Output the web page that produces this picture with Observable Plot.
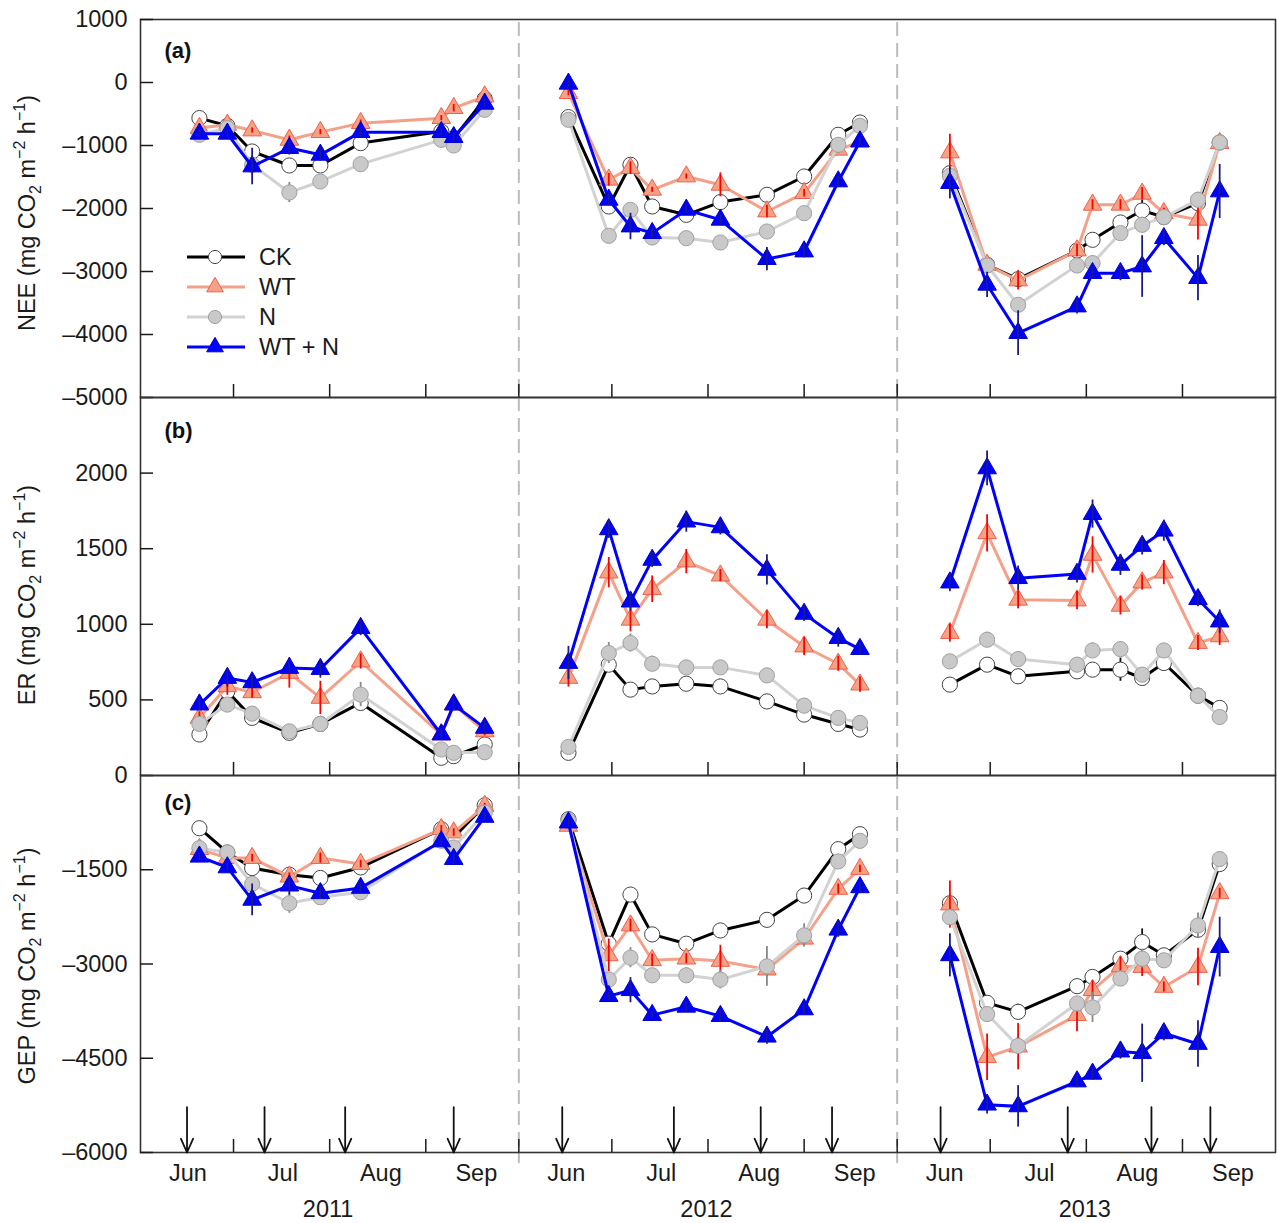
<!DOCTYPE html>
<html><head><meta charset="utf-8">
<script src="https://cdn.jsdelivr.net/npm/d3@7"></script>
<script src="https://cdn.jsdelivr.net/npm/@observablehq/plot@0.6"></script>
<style>
html,body{margin:0;padding:0;background:#fff;overflow:hidden}
#chart svg{display:block;overflow:visible}
</style></head><body><div id="chart"></div>
<script>
// ---------------- data ----------------
const seriesNames = ["CK", "WT", "N", "WT + N"];
const yearNames = ["2011", "2012", "2013"];
const monthNames = ["Jun", "Jul", "Aug", "Sep"];
const monthLabelOffsets = [15.3, 45.9, 77.5, 108.3];   // days after 1 June
const yearLabelOffset = 60.5;
const sampleDates = [
  "2011-06-20","2011-06-29","2011-07-07","2011-07-19","2011-07-29","2011-08-11","2011-09-06","2011-09-10","2011-09-20",
  "2012-06-17","2012-06-30","2012-07-07","2012-07-14","2012-07-25","2012-08-05","2012-08-20","2012-09-01","2012-09-12","2012-09-19",
  "2013-06-18","2013-06-30","2013-07-10","2013-07-29","2013-08-03","2013-08-12","2013-08-19","2013-08-26","2013-09-06","2013-09-13"
];
const arrowDates = [
  "2011-06-16","2011-07-11","2011-08-06","2011-09-10",
  "2012-06-15","2012-07-21","2012-08-18","2012-09-10",
  "2013-06-15","2013-07-26","2013-08-22","2013-09-10"
];
const monthTickDates = [
  "2011-07-01","2011-08-01","2011-09-01","2011-10-01",
  "2012-07-01","2012-08-01","2012-09-01","2012-10-01",
  "2013-07-01","2013-08-01","2013-09-01"
];
const dividerDates = ["2011-10-01", "2012-10-01"];

// NEE
const neeCK  = [-565,-687,-1095,-1317,-1317,-962,-777,-883,-259,
                -550,-1968,-1306,-1968,-2100,-1898,-1783,-1492,-830,-635,
                -1439,-2894,-3121,-2667,-2497,-2222,-2032,-2137,-1915,-952];
const neeWT  = [-724,-672,-762,-910,-788,-645,-566,-407,-222,
                -169,-1544,-1359,-1703,-1492,-1624,-2048,-1756,-1068,-937,
                -1111,-2894,-3143,-2667,-1941,-1941,-1767,-2074,-2180,-963];
const neeN   = [-830,-724,-1306,-1746,-1571,-1296,-910,-1000,-433,
                -592,-2433,-2021,-2460,-2471,-2540,-2365,-2074,-989,-688,
                -1481,-2905,-3529,-2905,-2867,-2391,-2259,-2137,-1862,-952];
const neeWTN = [-814,-814,-1333,-1041,-1148,-788,-788,-867,-338,
                -20,-1862,-2286,-2391,-2021,-2179,-2803,-2683,-1571,-937,
                -1597,-3211,-3978,-3556,-3026,-3026,-2921,-2471,-3105,-1730];
const neeCKse  = [40,40,60,60,60,50,40,40,40, 40,50,40,40,40,60,60,40,40,40, 60,80,80,60,60,60,160,60,80,40];
const neeWTse  = [40,40,40,60,40,50,40,60,40, 40,100,100,40,40,190,100,60,60,40, 290,100,150,100,80,80,100,80,320,60];
const neeNse   = [40,40,60,160,60,40,60,80,40, 40,60,80,60,80,60,100,100,60,40, 60,60,80,80,120,80,120,60,120,40];
const neeWTNse = [60,60,290,110,100,80,60,80,60, 60,80,210,80,60,80,185,100,80,60, 250,200,355,120,100,120,490,120,360,430];

// ER
const erCK  = [271,557,381,282,341,480,117,128,205,
               150,733,568,589,607,589,490,403,341,304,
               601,733,656,689,700,700,645,744,528,447];
const erWT  = [381,590,550,678,513,754,271,469,292,
               645,1342,1030,1232,1415,1322,1030,853,739,601,
               942,1602,1162,1157,1459,1122,1276,1342,876,920];
const erN   = [341,469,409,292,341,535,172,150,154,
               189,810,876,739,715,715,662,462,381,348,
               755,898,770,733,827,836,667,827,528,387];
const erWTN = [469,645,616,711,704,975,271,469,315,
               744,1628,1150,1426,1679,1641,1360,1069,909,836,
               1276,2031,1305,1333,1729,1393,1518,1619,1166,1018];
const erCKse  = [30,30,30,20,30,30,20,20,20, 20,40,30,30,30,30,30,30,20,20, 30,40,30,40,40,77,40,40,30,30];
const erWTse  = [40,60,40,100,110,50,30,40,30, 60,100,80,88,80,40,60,60,50,50, 60,123,60,60,120,60,50,80,50,60];
const erNse   = [30,30,30,30,30,80,30,30,30, 30,70,60,50,40,40,40,30,30,30, 40,50,30,40,50,50,40,40,30,30];
const erWTNse = [40,60,40,40,60,50,40,40,40, 110,60,60,50,70,50,100,50,60,40, 60,115,80,60,93,70,60,70,50,77];

// GEP
const gepCK  = [-839,-1225,-1473,-1579,-1631,-1463,-855,-987,-474,
                -696,-2677,-1895,-2529,-2677,-2466,-2297,-1911,-1172,-934,
                -2033,-3618,-3761,-3353,-3206,-2915,-2651,-2862,-2455,-1409];
const gepWT  = [-1172,-1314,-1314,-1610,-1314,-1409,-855,-908,-485,
                -802,-2862,-2387,-2941,-2915,-2952,-3089,-2598,-1806,-1488,
                -2054,-4483,-4315,-3813,-3417,-3037,-3048,-3365,-3048,-1875];
const gepN   = [-1156,-1225,-1726,-2033,-1938,-1859,-1040,-1146,-591,
                -723,-3248,-2899,-3180,-3180,-3248,-3037,-2545,-1368,-1040,
                -2255,-3797,-4304,-3628,-3691,-3232,-2915,-2941,-2387,-1330];
const gepWTN = [-1293,-1463,-1979,-1753,-1874,-1789,-1050,-1330,-659,
                -749,-3512,-3417,-3813,-3681,-3829,-4157,-3723,-2455,-1780,
                -2862,-5239,-5266,-4870,-4748,-4394,-4420,-4103,-4273,-2731];
const gepCKse  = [40,40,40,50,40,40,40,40,40, 40,60,50,60,50,60,60,50,50,40, 60,100,120,80,80,80,210,80,120,60];
const gepWTse  = [60,60,60,60,80,60,60,60,40, 60,260,100,100,80,250,100,120,80,60, 375,370,370,265,150,150,150,80,300,80];
const gepNse   = [60,60,80,160,80,80,80,60,40, 60,100,160,100,120,150,317,185,80,60, 80,120,120,80,240,120,150,80,200,60];
const gepWTNse = [60,60,253,150,100,80,60,80,60, 60,60,200,60,80,100,120,80,120,80, 343,150,330,100,100,120,464,120,370,475];

const arrowTopGEP = -5280;

// ---------------- helpers ----------------
const SEG = 122; // days Jun 1 - Sep 30 (one season segment)
function toDay(s) {
  const [y, m, d] = s.split("-").map(Number);
  return (Date.UTC(y, m - 1, d) - Date.UTC(y, 5, 1)) / 864e5 + (y - 2011) * SEG;
}
const styles = {
  "CK":     {line: "#000000", symbol: "circle",   r: 7.6, lr: 6.6, fill: "#ffffff", stroke: "#444444", err: "#111111", errOnTop: false},
  "WT":     {line: "#f5a088", symbol: "triangle", r: 6.9, lr: 6.2, fill: "#f4a184", stroke: "#f0604e", err: "#ff0000", errOnTop: true},
  "N":      {line: "#d2d2d2", symbol: "circle",   r: 7.6, lr: 6.6, fill: "#c9c9c9", stroke: "#a0a0a0", err: "#888888", errOnTop: false},
  "WT + N": {line: "#0000ff", symbol: "triangle", r: 6.9, lr: 6.2, fill: "#0000ff", stroke: "#0000c8", err: "#1c1c82", errOnTop: true}
};
function buildRows(values, ses) {
  return seriesNames.flatMap((s, si) => sampleDates.map((dt, i) => ({
    series: s, day: toDay(dt), year: dt.slice(0, 4), value: values[si][i], se: ses[si][i]
  })));
}
const neeRows = buildRows([neeCK, neeWT, neeN, neeWTN], [neeCKse, neeWTse, neeNse, neeWTNse]);
const erRows  = buildRows([erCK, erWT, erN, erWTN], [erCKse, erWTse, erNse, erWTNse]);
const gepRows = buildRows([gepCK, gepWT, gepN, gepWTN], [gepCKse, gepWTse, gepNse, gepWTNse]);

const tickDays = monthTickDates.map(toDay);
const dividerDays = dividerDates.map(toDay);
const arrowDays = arrowDates.map(toDay);
const monthLabelMap = new Map();
yearNames.forEach((y, yi) => monthLabelOffsets.forEach((o, mi) => monthLabelMap.set(yi * SEG + o, monthNames[mi])));
const yearLabelMap = new Map(yearNames.map((y, yi) => [yi * SEG + yearLabelOffset, y]));

const FONT = "'Liberation Sans', Arial, Helvetica, sans-serif";
const FS = 23.5;
const fmt = d => (d < 0 ? "\u2013" : "") + Math.abs(d);

function panel({rows, yDomain, yTicks, height, marginTop, marginBottom, letter, letterDy, ruleInsetTop = 0, ruleInsetBottom = 0, extra = []}) {
  const marks = [
    Plot.ruleX(dividerDays, {x: d => d, stroke: "#bdbdbd", strokeWidth: 2, strokeDasharray: "14,7", insetTop: ruleInsetTop, insetBottom: ruleInsetBottom}),
    Plot.frame({stroke: "#333", strokeWidth: 1.6}),
    Plot.axisY({ticks: yTicks, tickSize: -13, tickPadding: 26, tickFormat: fmt, label: null, fontSize: FS, color: "#1a1a1a", strokeWidth: 1.5}),
    Plot.axisX({ticks: tickDays, tickSize: -13, tickFormat: () => "", label: null, color: "#1a1a1a", strokeWidth: 1.5}),
    ...extra
  ];
  for (const s of seriesNames) {
    const st = styles[s];
    const d = rows.filter(r => r.series === s);
    const line = Plot.line(d, {x: "day", y: "value", z: "year", stroke: st.line, strokeWidth: 3});
    const dots = Plot.dot(d, {x: "day", y: "value", symbol: st.symbol, r: st.r, fill: st.fill, stroke: st.stroke, strokeWidth: 1});
    const bars = Plot.ruleX(d, {x: "day", y1: r => r.value - r.se, y2: r => r.value + r.se, stroke: st.err, strokeWidth: 1.8});
    marks.push(line, ...(st.errOnTop ? [dots, bars] : [bars, dots]));
  }
  marks.push(Plot.text([letter], {text: d => d, frameAnchor: "top-left", dx: 24, dy: letterDy, textAnchor: "start", fontWeight: "bold", fontSize: 22, fill: "#111"}));
  return Plot.plot({
    width: 1277, height, marginLeft: 140, marginRight: 2, marginTop, marginBottom,
    x: {domain: [0, 3 * SEG]},
    y: {domain: yDomain},
    style: {fontFamily: FONT, fontSize: FS + "px", background: "transparent", overflow: "visible", color: "#1a1a1a"},
    marks
  });
}

const chart = document.getElementById("chart");

const svgA = panel({rows: neeRows, yDomain: [-5000, 1000], yTicks: d3.range(-5000, 1001, 1000),
  height: 397, marginTop: 19, marginBottom: 0, letter: "(a)", letterDy: 23, ruleInsetTop: 3});
const svgB = panel({rows: erRows, yDomain: [0, 2500], yTicks: d3.range(0, 2001, 500),
  height: 378, marginTop: 0, marginBottom: 0, letter: "(b)", letterDy: 25});
const svgC = panel({rows: gepRows, yDomain: [-6000, 0], yTicks: d3.range(-6000, -1499, 1500),
  height: 448, marginTop: 0, marginBottom: 71, letter: "(c)", letterDy: 19, ruleInsetBottom: -11,
  extra: [
    Plot.arrow(arrowDays, {x1: d => d, x2: d => d, y1: () => arrowTopGEP, y2: () => -6000, stroke: "#111", strokeWidth: 1.8, headLength: 19, headAngle: 48}),
    Plot.axisX({ticks: [...monthLabelMap.keys()], tickSize: 0, tickPadding: 12, tickFormat: d => monthLabelMap.get(d), label: null, fontSize: FS, color: "#1a1a1a"}),
    Plot.axisX({ticks: [...yearLabelMap.keys()], tickSize: 0, tickPadding: 48, tickFormat: d => yearLabelMap.get(d), label: null, fontSize: FS, color: "#1a1a1a"})
  ]});
chart.append(svgA, svgB, svgC);

// y-axis titles with sub/superscripts
function yTitle(svg, name, cy) {
  const t = d3.select(svg).append("text")
    .attr("transform", `translate(27,${cy}) rotate(-90)`)
    .attr("text-anchor", "middle")
    .attr("font-family", FONT).attr("font-size", FS).attr("fill", "#1a1a1a")
    .attr("dy", "0.35em");
  t.append("tspan").text(`${name} (mg CO`);
  t.append("tspan").attr("font-size", 16).attr("dy", 6).text("2");
  t.append("tspan").attr("dy", -6).text(" m");
  t.append("tspan").attr("font-size", 16).attr("dy", -10).text("\u22122");
  t.append("tspan").attr("dy", 10).text(" h");
  t.append("tspan").attr("font-size", 16).attr("dy", -10).text("\u22121");
  t.append("tspan").attr("dy", 10).text(")");
}
yTitle(svgA, "NEE", 213);
yTitle(svgB, "ER", 198);
yTitle(svgC, "GEP", 191);

// legend inside panel (a)
const leg = d3.select(svgA).append("g").attr("font-family", FONT).attr("font-size", FS);
seriesNames.forEach((s, i) => {
  const st = styles[s];
  const y = 257 + i * 30;
  leg.append("line").attr("x1", 187).attr("x2", 245).attr("y1", y).attr("y2", y)
    .attr("stroke", st.line).attr("stroke-width", 3);
  const sym = st.symbol === "circle" ? d3.symbolCircle : d3.symbolTriangle;
  leg.append("path").attr("transform", `translate(215,${y})`)
    .attr("d", d3.symbol(sym, Math.PI * st.lr * st.lr)())
    .attr("fill", st.fill).attr("stroke", st.stroke).attr("stroke-width", 1);
  leg.append("text").attr("x", 259).attr("y", y).attr("dy", "0.35em")
    .attr("text-anchor", "start").attr("fill", "#1a1a1a").text(s);
});
</script>
</body></html>
